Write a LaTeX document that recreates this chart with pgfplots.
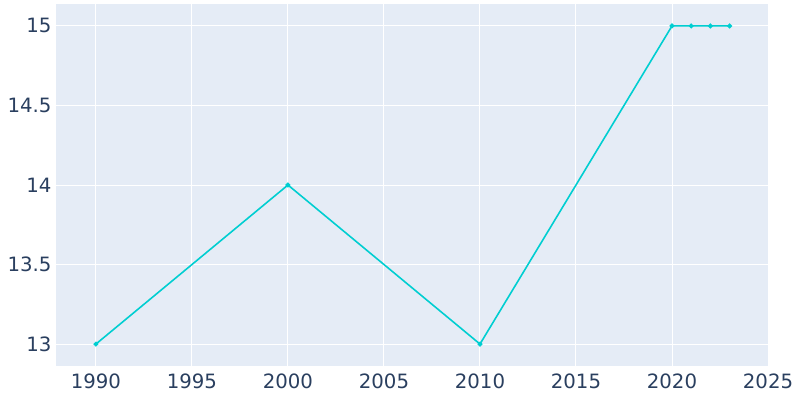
\documentclass[border=0pt]{standalone}
\usepackage{pgfplots}
\pgfplotsset{compat=1.18}
\usepackage{fontspec}
\setmainfont{DejaVu Sans}
\definecolor{bgc}{HTML}{E5ECF6}
\definecolor{txt}{HTML}{2A3F5F}
\definecolor{linec}{HTML}{00CED1}
\begin{document}
\begin{tikzpicture}
\path (0,0) rectangle (800bp,400bp);
\begin{axis}[
  at={(56bp,34bp)}, anchor=south west,
  scale only axis, width=712bp, height=362bp,
  xmin=1987.92, xmax=2025, ymin=12.862, ymax=15.138,
  axis background/.style={fill=bgc},
  axis line style={draw=none},
  tick style={draw=none},
  grid=major, grid style={white, line width=1pt},
  xtick={1990,1995,...,2025},
  ytick={13,13.5,14,14.5,15},
  yticklabels={13,13.5,14,14.5,15},
  /pgf/number format/assume math mode=true,
  /pgf/number format/1000 sep={},
  ticklabel style={font=\fontsize{19.8}{23}\selectfont, text=txt},
  xticklabel style={yshift=-4bp},
  yticklabel style={xshift=-1bp},
]
\addplot[color=linec, line width=1.6pt, mark=*, mark size=1.6pt] coordinates {
(1990,13) (2000,14) (2010,13) (2020,15) (2021,15) (2022,15) (2023,15)
};
\end{axis}
\end{tikzpicture}
\end{document}
